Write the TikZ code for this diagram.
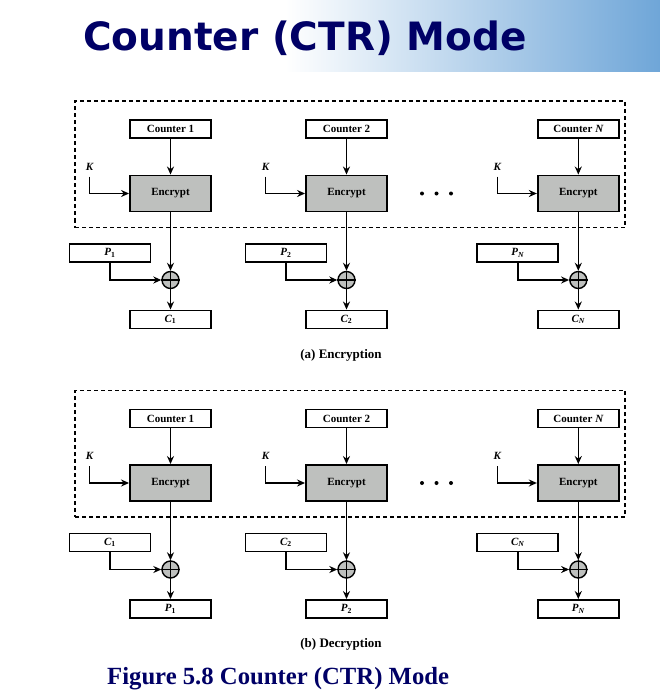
\documentclass[tikz,border=0pt]{standalone}
\usepackage{fontspec}
\setmainfont{Liberation Serif}
\newfontfamily\titlefont{DejaVu Sans}
\usetikzlibrary{arrows.meta}
\definecolor{navy}{RGB}{0,0,102}
\definecolor{bandblue}{RGB}{111,166,216}
\definecolor{encgray}{RGB}{190,192,190}
\tikzset{
  x=1pt, y=-1pt,
  box/.style={draw, line width=1.9pt, minimum width=81pt, minimum height=18pt, inner sep=0pt,
    fill=white, font=\fontsize{11}{12}\selectfont\bfseries},
  encbox/.style={box, fill=encgray, minimum height=36pt},
  xorc/.style={draw, circle, line width=1.4pt, fill=encgray, minimum size=17pt, inner sep=0pt},
  flow/.style={line width=1.4pt, -{Stealth[length=8pt,width=7pt]}},
  dashframe/.style={line width=1.9pt, dash pattern=on 4pt off 3pt},
  lbl/.style={font=\fontsize{11}{12}\selectfont\bfseries\itshape, inner sep=0pt},
  captext/.style={font=\fontsize{13}{14}\selectfont\bfseries, inner sep=0pt},
}
\newcommand\ctrpanel[4]{%
  % #1 tag, #2 input letter, #3 output letter, #4 caption
  \node[draw, dashframe, minimum width=550pt, minimum height=126.5pt, inner sep=0pt] (frame-#1) at (350,164.25) {};
  \foreach \i/\cx/\sub in {1/170.5/1, 2/346.5/2, 3/578.3/{\itshape N}}{
    \node[box] (ctr-#1-\i) at (\cx,129) {Counter \sub};
    \node[encbox] (enc-#1-\i) at (\cx,193.5) {Encrypt};
    \node[lbl] (k-#1-\i) at (\cx-81,166.5) {K};
    \coordinate (ks-#1-\i) at (\cx-81,176.5);
    \node[box] (in-#1-\i) at (\cx-60.5,253) {{\itshape #2}\textsubscript{\sub}};
    \node[xorc] (x-#1-\i) at (\cx,280) {};
    \node[box] (out-#1-\i) at (\cx,319.5) {{\itshape #3}\textsubscript{\sub}};
    \draw[line width=1.1pt] (x-#1-\i.north) -- (x-#1-\i.south) (x-#1-\i.west) -- (x-#1-\i.east);
    \draw[flow] (ctr-#1-\i) -- (enc-#1-\i);
    \draw[flow] (ks-#1-\i) |- (enc-#1-\i.west);
    \draw[flow] (enc-#1-\i) -- (x-#1-\i);
    \draw[flow] (in-#1-\i.south) |- (x-#1-\i.west);
    \draw[flow] (x-#1-\i) -- (out-#1-\i);
  }
  \foreach \dx [count=\j] in {422,436.5,451}{
    \node[circle, fill=black, minimum size=4pt, inner sep=0pt] (dot-#1-\j) at (\dx,193.5) {};
  }
  \node[captext] (cap-#1) at (341,355) {#4};
}
\begin{document}
\begin{tikzpicture}
\useasboundingbox (0,0) rectangle (660,690);
\fill[white] (0,0) rectangle (660,690);
\shade[left color=white, right color=bandblue] (285,0) rectangle (660,72);
\node[anchor=base west, inner sep=0pt, text=navy, font=\titlefont\bfseries\fontsize{39}{42}\selectfont] (title) at (83,50.5) {Counter (CTR) Mode};
\begin{scope}
  \ctrpanel{a}{P}{C}{(a) Encryption}
\end{scope}
\begin{scope}[yshift=-289.5pt]
  \ctrpanel{b}{C}{P}{(b) Decryption}
\end{scope}
\node[anchor=base west, inner sep=0pt, text=navy, font=\bfseries\fontsize{24.7}{26}\selectfont] (figcap) at (107,684) {Figure 5.8 Counter (CTR) Mode};
\end{tikzpicture}
\end{document}
